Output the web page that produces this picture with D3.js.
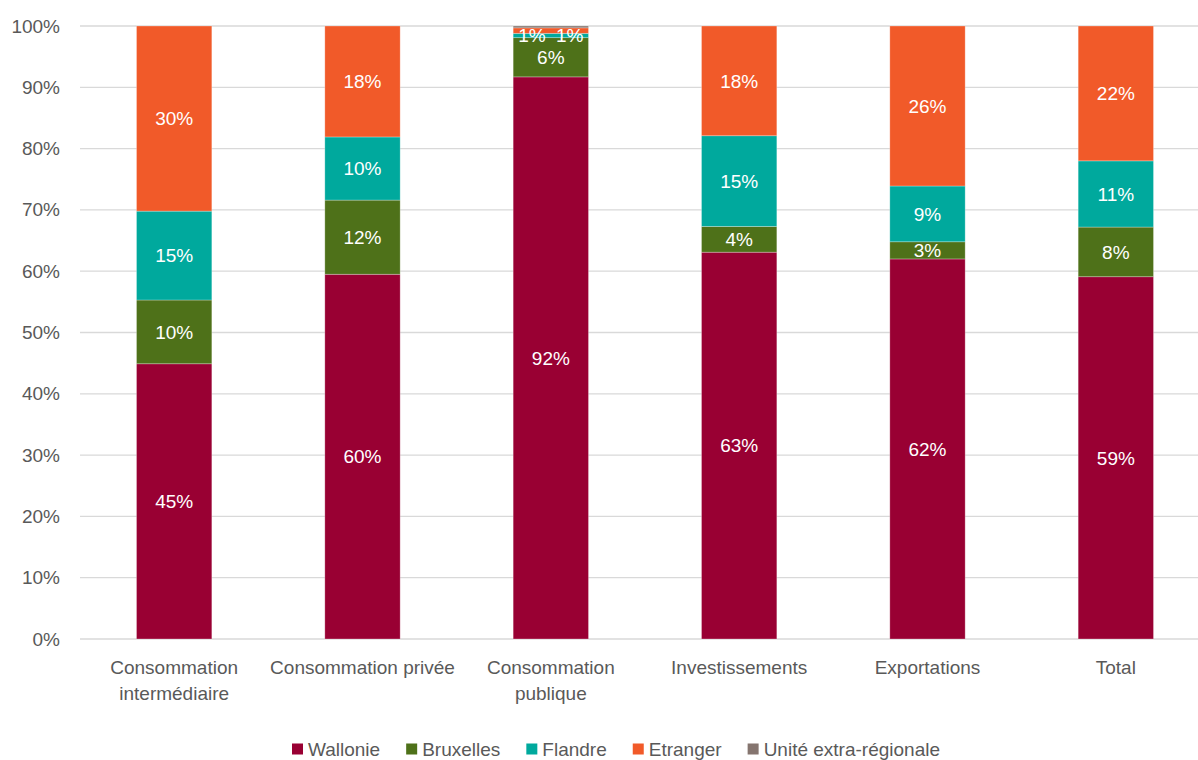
<!DOCTYPE html>
<html>
<head>
<meta charset="utf-8">
<script src="https://cdn.jsdelivr.net/npm/d3@7"></script>
<style>
  html, body { margin: 0; padding: 0; background: #fff; }
  svg { display: block; font-family: "Liberation Sans", Arial, sans-serif; }
</style>
</head>
<body>
<svg id="chart" width="1198" height="760"></svg>
<script>
// Répartition de la demande finale par origine (parts en %)
const categories = [
  ["Consommation", "intermédiaire"],
  ["Consommation privée"],
  ["Consommation", "publique"],
  ["Investissements"],
  ["Exportations"],
  ["Total"]
];
const seriesNames = ["Wallonie", "Bruxelles", "Flandre", "Etranger", "Unité extra-régionale"];
const wallonie  = [44.9, 59.5, 91.7, 63.1, 62.0, 59.1];
const bruxelles = [10.4, 12.1,  6.4,  4.2,  2.8,  8.1];
const flandre   = [14.5, 10.3,  0.7, 14.8,  9.1, 10.8];
const etranger  = [30.2, 18.1,  0.9, 17.9, 26.1, 22.0];
const extraReg  = [ 0.0,  0.0,  0.3,  0.0,  0.0,  0.0];
const yTicks = [0, 10, 20, 30, 40, 50, 60, 70, 80, 90, 100];

const colors = ["#990033", "#4E7119", "#00A99D", "#F15A29", "#85756F"];
const seriesValues = [wallonie, bruxelles, flandre, etranger, extraReg];

const svg = d3.select("#chart");
const plot = { left: 80, right: 1210, top: 26, bottom: 639 };
const textColor = "#595959";
const gridColor = "#D9D9D9";
const fontSize = 19;

const keys = categories.map(c => c.join(" "));
const table = keys.map((k, i) => {
  const row = { key: k };
  seriesNames.forEach((s, j) => { row[s] = seriesValues[j][i]; });
  return row;
});

const x = d3.scaleBand().domain(keys).range([plot.left, plot.right]).paddingInner(0.6).paddingOuter(0.3);
const y = d3.scaleLinear().domain([0, 100]).range([plot.bottom, plot.top]);

// Gridlines
svg.append("g")
  .selectAll("line")
  .data(yTicks)
  .join("line")
  .attr("x1", plot.left).attr("x2", plot.right)
  .attr("y1", d => y(d)).attr("y2", d => y(d))
  .attr("stroke", gridColor).attr("stroke-width", 1.3);

// Y axis labels
const yAxis = d3.axisLeft(y).tickValues(yTicks).tickFormat(d => d + "%").tickSize(0).tickPadding(0);
const yg = svg.append("g").attr("transform", `translate(${60},0)`).call(yAxis);
yg.select(".domain").remove();
yg.selectAll("text")
  .attr("fill", textColor)
  .style("font-size", fontSize + "px")
  .style("font-family", '"Liberation Sans", Arial, sans-serif');

// Stacked bars
const stack = d3.stack().keys(seriesNames);
const stacked = stack(table);

const layers = svg.append("g").selectAll("g")
  .data(stacked)
  .join("g")
  .attr("fill", (d, i) => colors[i]);

layers.selectAll("rect")
  .data(d => d.map(p => ({ p, key: d.key })))
  .join("rect")
  .attr("x", d => x(d.p.data.key))
  .attr("width", x.bandwidth())
  .attr("y", d => y(d.p[1]))
  .attr("height", d => y(d.p[0]) - y(d.p[1]))
  .attr("stroke", "#ffffff")
  .attr("stroke-opacity", 0.35)
  .attr("stroke-width", 0.8);

// Data labels
const fmt = v => d3.format(".0f")(v) + "%";
const labelData = [];
stacked.forEach((layer, li) => {
  if (layer.key === "Unité extra-régionale") return;
  layer.forEach((p, ci) => {
    const v = p[1] - p[0];
    if (v < 0.5) return;
    labelData.push({ li, ci, v, y0: p[0], y1: p[1], key: p.data.key });
  });
});
// Spread labels of thin neighbouring segments side by side
labelData.forEach(d => {
  d.cx = x(d.key) + x.bandwidth() / 2;
  d.cy = (y(d.y0) + y(d.y1)) / 2;
  d.thin = (y(d.y0) - y(d.y1)) < 12;
});
d3.group(labelData.filter(d => d.thin), d => d.ci).forEach(group => {
  if (group.length < 2) return;
  const cy = d3.mean(group, d => d.cy) + 2;
  const span = x.bandwidth() * 0.5;
  group.forEach((d, i) => {
    d.cx = d.cx - span / 2 + (span * i) / (group.length - 1);
    d.cy = cy;
  });
});

svg.append("g").selectAll("text")
  .data(labelData)
  .join("text")
  .attr("x", d => d.cx)
  .attr("y", d => d.cy)
  .attr("dy", "0.35em")
  .attr("text-anchor", "middle")
  .attr("fill", "#ffffff")
  .style("font-size", fontSize + "px")
  .text(d => fmt(d.v));

// Category labels
const xg = svg.append("g");
categories.forEach((lines, i) => {
  const t = xg.append("text")
    .attr("x", x(keys[i]) + x.bandwidth() / 2)
    .attr("y", 667)
    .attr("text-anchor", "middle")
    .attr("fill", textColor)
    .style("font-size", fontSize + "px");
  lines.forEach((ln, j) => {
    t.append("tspan")
      .attr("x", x(keys[i]) + x.bandwidth() / 2)
      .attr("y", 667 + j * 26)
      .attr("dy", "0.35em")
      .text(ln);
  });
});

// Legend
const legend = svg.append("g");
const sq = 11, gapText = 5, gapItem = 26, legendY = 749;
let cursor = 0;
const items = seriesNames.map((name, i) => {
  const g = legend.append("g");
  g.append("rect").attr("width", sq).attr("height", sq).attr("y", -sq / 2).attr("fill", colors[i]);
  const t = g.append("text")
    .attr("x", sq + gapText)
    .attr("dy", "0.35em")
    .attr("fill", textColor)
    .style("font-size", fontSize + "px")
    .text(name);
  const w = sq + gapText + t.node().getComputedTextLength();
  g.attr("transform", `translate(${cursor},${legendY})`);
  cursor += w + gapItem;
  return g;
});
const totalW = cursor - gapItem;
legend.attr("transform", `translate(${616 - totalW / 2},0)`);
</script>
</body>
</html>
